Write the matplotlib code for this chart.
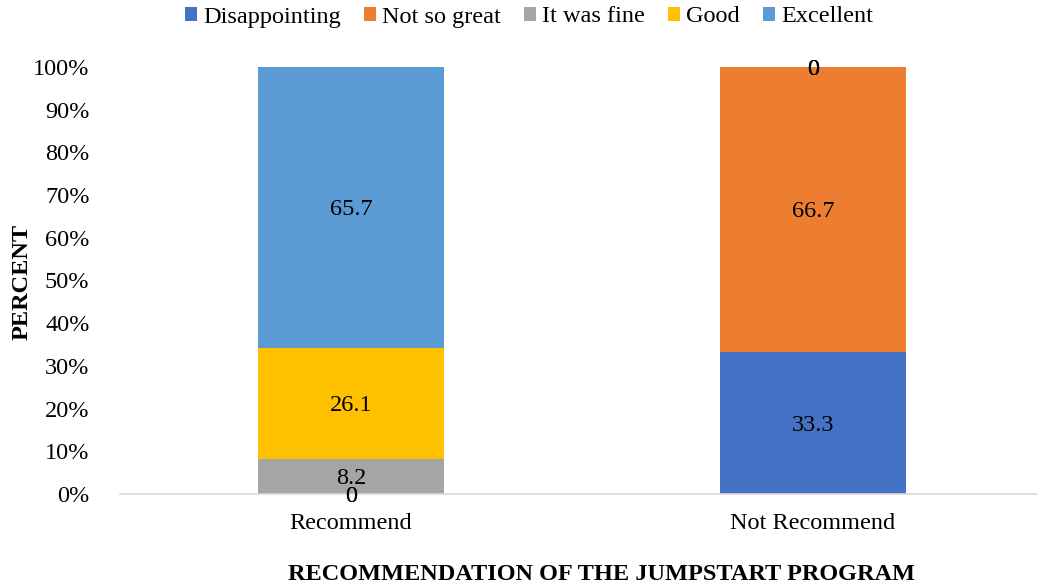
import matplotlib
matplotlib.use("Agg")
import matplotlib.pyplot as plt
import numpy as np

categories = ["Recommend", "Not Recommend"]
series_names = ["Disappointing", "Not so great", "It was fine", "Good", "Excellent"]
disappointing = [0, 33.3]
not_so_great = [0, 66.7]
it_was_fine = [8.2, 0]
good = [26.1, 0]
excellent = [65.7, 0]
colors = ["#4472C4", "#ED7D31", "#A5A5A5", "#FFC000", "#5B9BD5"]
yticks = [0, 10, 20, 30, 40, 50, 60, 70, 80, 90, 100]

plt.rcParams['font.family'] = ['Liberation Serif', 'DejaVu Serif']
FS = 17.5

fig = plt.figure(figsize=(10.37, 5.88), dpi=100)
ax = fig.add_axes([120/1037, 94/588, 924/1037, 427/588])

data = [disappointing, not_so_great, it_was_fine, good, excellent]
x = np.arange(len(categories))
bottom = np.zeros(len(categories))
handles = []
for name, vals, c in zip(series_names, data, colors):
    vals = np.array(vals, dtype=float)
    b = ax.bar(x, vals, 0.403, bottom=bottom, color=c, label=name)
    handles.append(b)
    for xi, v, bt in zip(x, vals, bottom):
        ax.text(xi, bt + v / 2, f"{v:g}", ha="center", va="center_baseline", fontsize=FS, color="black")
    bottom += vals

ax.set_xlim(-0.5, 1.5)
ax.set_ylim(0, 100)
ax.set_yticks(yticks)
ax.set_yticklabels([f"{t}%" for t in yticks], fontsize=FS)
ax.set_xticks(x)
ax.set_xticklabels(categories, fontsize=FS)
ax.tick_params(axis="both", length=0)
ax.tick_params(axis="y", pad=22)
ax.tick_params(axis="x", pad=14)
for s in ["top", "right", "left"]:
    ax.spines[s].set_visible(False)
ax.spines["bottom"].set_color("#D9D9D9")
ax.spines["bottom"].set_linewidth(1.2)

fig.text(22/1037, 1 - 282/588, "PERCENT", rotation=90, ha="center", va="center",
         fontsize=FS, fontweight="bold")
fig.text(601/1037, 1 - 575/588, "RECOMMENDATION OF THE JUMPSTART PROGRAM", ha="center", va="center",
         fontsize=FS, fontweight="bold")

fig.legend(handles=handles, labels=series_names, loc="center", bbox_to_anchor=(529/1037, 1 - 17/588),
           ncol=5, frameon=False, fontsize=FS, handlelength=0.5, handleheight=0.5,
           handletextpad=0.25, columnspacing=0.95)

fig.savefig("out.png", dpi=100)
